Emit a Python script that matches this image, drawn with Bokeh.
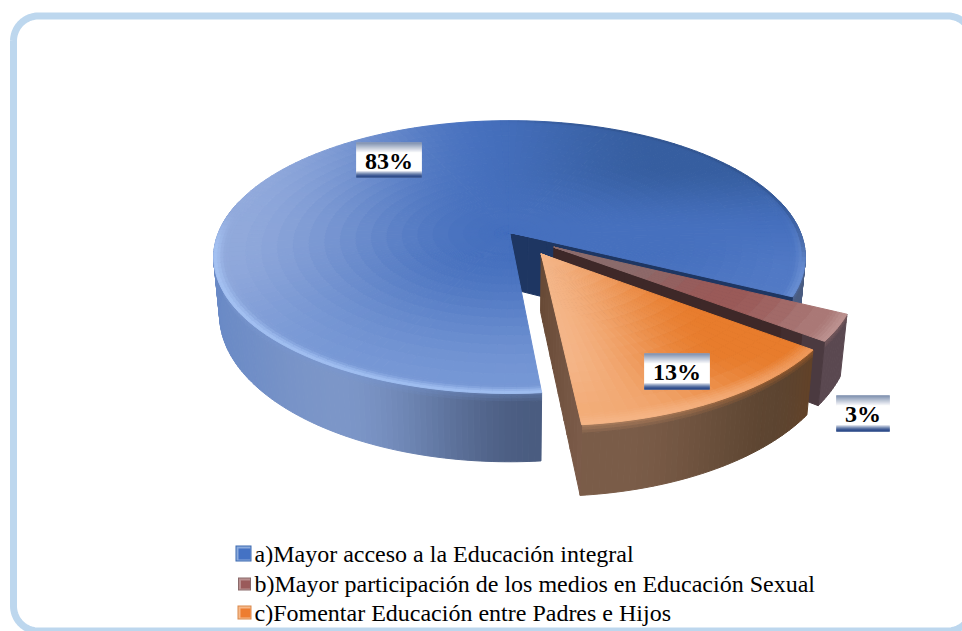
import numpy as np
from bokeh.core.properties import value
from bokeh.embed import file_html
from bokeh.models import ColumnDataSource
from bokeh.plotting import figure
from bokeh.resources import INLINE

# Survey answers and their shares, in percent
categories = [
    "a)Mayor acceso a la Educación integral",
    "b)Mayor participación de los medios en Educación Sexual",
    "c)Fomentar Educación entre Padres e Hijos",
]
shares = [83, 3, 13]
explode = [0.0, 0.185, 0.19]
explode_turn = [0.0, 4.0, -5.0]

# Perspective view of the pie: centre, radii, tilt and wall height in canvas pixels
CX, CY, RX, RY, TILT, WALL = 509.0, 232.0, 291.0, 132.0, 0.18, 56.0
FIRST_ANGLE = 84.8
CONVERGE = 0.02


def project(u, v, z=0.0):
    w = 1.0 - TILT * v
    return CX + RX * u / w * (1.0 - CONVERGE * z), CY + (RY * v + WALL * z) / w


def mix(a, b, t):
    t = float(np.clip(t, 0.0, 1.0))
    return tuple(a[i] + (b[i] - a[i]) * t for i in range(3))


def smooth(e0, e1, x):
    t = float(np.clip((x - e0) / (e1 - e0), 0.0, 1.0))
    return t * t * (3 - 2 * t)


def hexa(c):
    return "#%02x%02x%02x" % tuple(int(round(max(0, min(255, x)))) for x in c)


def blue_top(u, v, r):
    c = mix((146, 170, 220), (70, 112, 190), smooth(-1.0, -0.05, u))
    c = mix(c, (54, 94, 160), smooth(0.0, 0.55, -v) * smooth(-0.2, 0.6, u))
    c = mix(c, (124, 156, 216), smooth(0.15, 1.0, v) * 0.9)
    c = mix(c, (82, 122, 198), smooth(0.5, 1.0, u) * smooth(-0.1, 0.3, v))
    edge = smooth(0.96, 1.0, r)
    light = smooth(-0.2, 0.15, v) * (1 - 0.7 * smooth(0.5, 0.85, u))
    c = mix(c, (170, 200, 248), edge * 0.8 * light)
    # darker lip along the back right of the rim
    return mix(c, (40, 70, 122), smooth(0.98, 1.0, r) * smooth(-0.1, 0.3, u) * smooth(-0.1, 0.15, -v + 0.2) * 0.45)


def brown_top(u, v, r):
    c = mix((140, 108, 108), (154, 90, 88), smooth(0.25, 0.6, r))
    c = mix(c, (172, 124, 122), smooth(0.65, 1.0, r))
    return mix(c, (206, 170, 168), smooth(0.95, 1.0, r) * 0.45)


def orange_top(u, v, r):
    c = mix((245, 184, 140), (232, 124, 44), smooth(0.1, 0.62, u + 0.16 - v * 0.1))
    c = mix(c, (242, 170, 116), smooth(0.62, 1.05, v))
    return mix(c, (250, 196, 158), smooth(0.94, 1.0, r) * 0.4)


def blue_wall(u, v, z):
    c = mix((106, 138, 198), (124, 150, 200), smooth(-1.0, -0.5, u))
    return mix(c, (74, 92, 128), smooth(-0.5, 0.08, u))


def brown_wall(u, v, z):
    return mix((90, 72, 80), (74, 60, 68), smooth(0.9, 1.1, u))


def orange_wall(u, v, z):
    c = mix((122, 92, 72), (92, 68, 48), smooth(0.2, 0.7, u))
    return mix(c, (110, 62, 24), smooth(0.65, 1.0, u))


top_shade = [blue_top, brown_top, orange_top]
wall_shade = [blue_wall, brown_wall, orange_wall]
# Flat face at the closing angle of each slice: colour at the hub and at the rim
cut_inner = [(30, 54, 98), (62, 40, 40), (104, 74, 54)]
cut_outer = [(30, 54, 98), (78, 62, 70), (124, 92, 74)]

xs, ys, fills = [], [], []


def add_cell(points, colour):
    xs.append([pt[0] for pt in points])
    ys.append([pt[1] for pt in points])
    fills.append(hexa(colour))


radii = np.concatenate([np.linspace(0.0, 0.95, 19), np.linspace(0.96, 1.0, 5)])
cut_radii = np.linspace(0.0, 1.0, 15)
wall_z = [0.0, 0.04, 0.08, 0.12, 1.0]

totals = sum(shares)
angle = FIRST_ANGLE
for i, share in enumerate(shares):
    sweep = share / totals * 360.0
    a0, a1 = angle, angle + sweep
    angle = a1
    mid = np.radians((a0 + a1) / 2 + explode_turn[i])
    du, dv = explode[i] * np.cos(mid), explode[i] * np.sin(mid)

    # outer wall
    wall_steps = max(6, int(sweep))
    wall_grid = np.radians(np.linspace(a0, a1, wall_steps + 1))
    for j in range(wall_steps):
        b0, b1 = wall_grid[j], wall_grid[j + 1]
        bm = (b0 + b1) / 2
        if np.sin(bm) < -0.25:
            continue
        um, vm = np.cos(bm), np.sin(bm)
        base = wall_shade[i](um, vm, 0.5)
        for k in range(len(wall_z) - 1):
            z0, z1 = wall_z[k], wall_z[k + 1]
            glow = max(0.0, 0.35 * (1 - k / 3))
            col = mix(base, top_shade[i](um * 0.9, vm * 0.9, 0.9), glow)
            add_cell(
                [
                    project(du + np.cos(b0), dv + np.sin(b0), z0),
                    project(du + np.cos(b1), dv + np.sin(b1), z0),
                    project(du + np.cos(b1), dv + np.sin(b1), z1),
                    project(du + np.cos(b0), dv + np.sin(b0), z1),
                ],
                col,
            )

    # cut face, shaded from the hub towards the rim
    edge_u, edge_v = np.cos(np.radians(a1)), np.sin(np.radians(a1))
    for k in range(len(cut_radii) - 1):
        r0, r1 = cut_radii[k], cut_radii[k + 1]
        add_cell(
            [
                project(du + r0 * edge_u, dv + r0 * edge_v, 0),
                project(du + r1 * edge_u, dv + r1 * edge_v, 0),
                project(du + r1 * edge_u, dv + r1 * edge_v, 1),
                project(du + r0 * edge_u, dv + r0 * edge_v, 1),
            ],
            mix(cut_inner[i], cut_outer[i], smooth(0.8, 0.98, r0) if i == 1 else r0),
        )

    # top face
    steps = max(6, int(sweep / 2))
    grid = np.radians(np.linspace(a0, a1, steps + 1))
    for j in range(steps):
        b0, b1 = grid[j], grid[j + 1]
        bm = (b0 + b1) / 2
        for k in range(len(radii) - 1):
            r0, r1 = radii[k], radii[k + 1]
            rm = (r0 + r1) / 2
            um, vm = rm * np.cos(bm), rm * np.sin(bm)
            add_cell(
                [
                    project(du + r0 * np.cos(b0), dv + r0 * np.sin(b0)),
                    project(du + r1 * np.cos(b0), dv + r1 * np.sin(b0)),
                    project(du + r1 * np.cos(b1), dv + r1 * np.sin(b1)),
                    project(du + r0 * np.cos(b1), dv + r0 * np.sin(b1)),
                ],
                top_shade[i](um, vm, rm),
            )

p = figure(
    width=962,
    height=631,
    x_range=(0, 962),
    y_range=(631, 0),
    output_backend="svg",
    toolbar_location=None,
    min_border=0,
)
p.axis.visible = False
p.grid.visible = False
p.outline_line_color = None
p.background_fill_color = "white"
p.border_fill_color = "white"

# Rounded frame running off the right side of the canvas
FRAME_L, FRAME_T, FRAME_R, FRAME_B, FRAME_C = 13.0, 15.5, 972.0, 630.5, 25.0
fx, fy = [], []
for ccx, ccy, start in [
    (FRAME_L + FRAME_C, FRAME_T + FRAME_C, 180),
    (FRAME_R - FRAME_C, FRAME_T + FRAME_C, 270),
    (FRAME_R - FRAME_C, FRAME_B - FRAME_C, 0),
    (FRAME_L + FRAME_C, FRAME_B - FRAME_C, 90),
]:
    arc = np.radians(np.linspace(start, start + 90, 20))
    fx.extend(ccx + FRAME_C * np.cos(arc))
    fy.extend(ccy + FRAME_C * np.sin(arc))
fx.append(fx[0])
fy.append(fy[0])
p.line(fx, fy, line_color="#bdd7ee", line_width=7)

cells = ColumnDataSource(dict(xs=xs, ys=ys, fill=fills))
p.patches("xs", "ys", source=cells, fill_color="fill", line_color="fill", line_width=1.0)


def label_box(cx, top, bottom, half_width, text, size):
    p.quad(
        left=cx - half_width, right=cx + half_width, top=top, bottom=bottom,
        fill_color="white", line_color=None,
    )
    rows = np.arange(top, bottom)
    colours = []
    for y in rows:
        a = y - top
        b = bottom - 1 - y
        c = mix((118, 136, 170), (255, 255, 255), a / 10.0)
        if b < 6:
            c = mix((32, 64, 130), c, (b / 6.0) ** 1.5)
        colours.append(hexa(c))
    p.quad(
        left=cx - half_width, right=cx + half_width,
        top=rows, bottom=rows + 1,
        fill_color=colours, line_color=colours, line_width=0.5,
    )
    p.text(
        [cx], [(top + bottom) / 2 + 0.5], text=[text],
        text_font=value("Liberation Serif"), text_font_style="bold",
        text_font_size=size, text_color="#000000",
        text_align="center", text_baseline="middle",
    )


boxes = [(388.5, 142, 177, 32.5), (862.5, 395, 431, 26.5), (676.5, 353, 389, 32.5)]
for (bx, bt, bb, hw), share in zip(boxes, shares):
    label_box(bx, bt, bb, hw, f"{share}%", "24px")

# Legend
swatch_light = ["#8cabdc", "#b98f8f", "#f7b98a"]
swatch_dark = ["#4472c4", "#9a5a5a", "#ed7d31"]
swatch_edge = ["#3a68b0", "#8a6a6a", "#d9884a"]
swatch_y = [553.0, 583.5, 612.0]
swatch_x = [243.0, 244.0, 244.0]
swatch_half = [8.0, 6.5, 7.0]
text_y = [553.0, 583.0, 612.0]
for name, y, ty, sx, h, c0, c1, c2 in zip(categories, swatch_y, text_y, swatch_x, swatch_half, swatch_edge, swatch_light, swatch_dark):
    p.quad(left=sx - h, right=sx + h, top=y - h, bottom=y + h, fill_color=c0, line_color=None)
    p.quad(left=sx - h + 1, right=sx + h - 1, top=y - h + 1, bottom=y + h - 1, fill_color=c1, line_color=None)
    p.quad(left=sx - h + 3, right=sx + h - 1, top=y - h + 3, bottom=y + h - 2, fill_color=c2, line_color=None)
    p.text(
        [254], [ty], text=[name],
        text_font=value("Liberation Serif"), text_font_size="24px",
        text_color="#000000", text_align="left", text_baseline="middle",
    )

open("out.html", "w").write(file_html(p, INLINE))
